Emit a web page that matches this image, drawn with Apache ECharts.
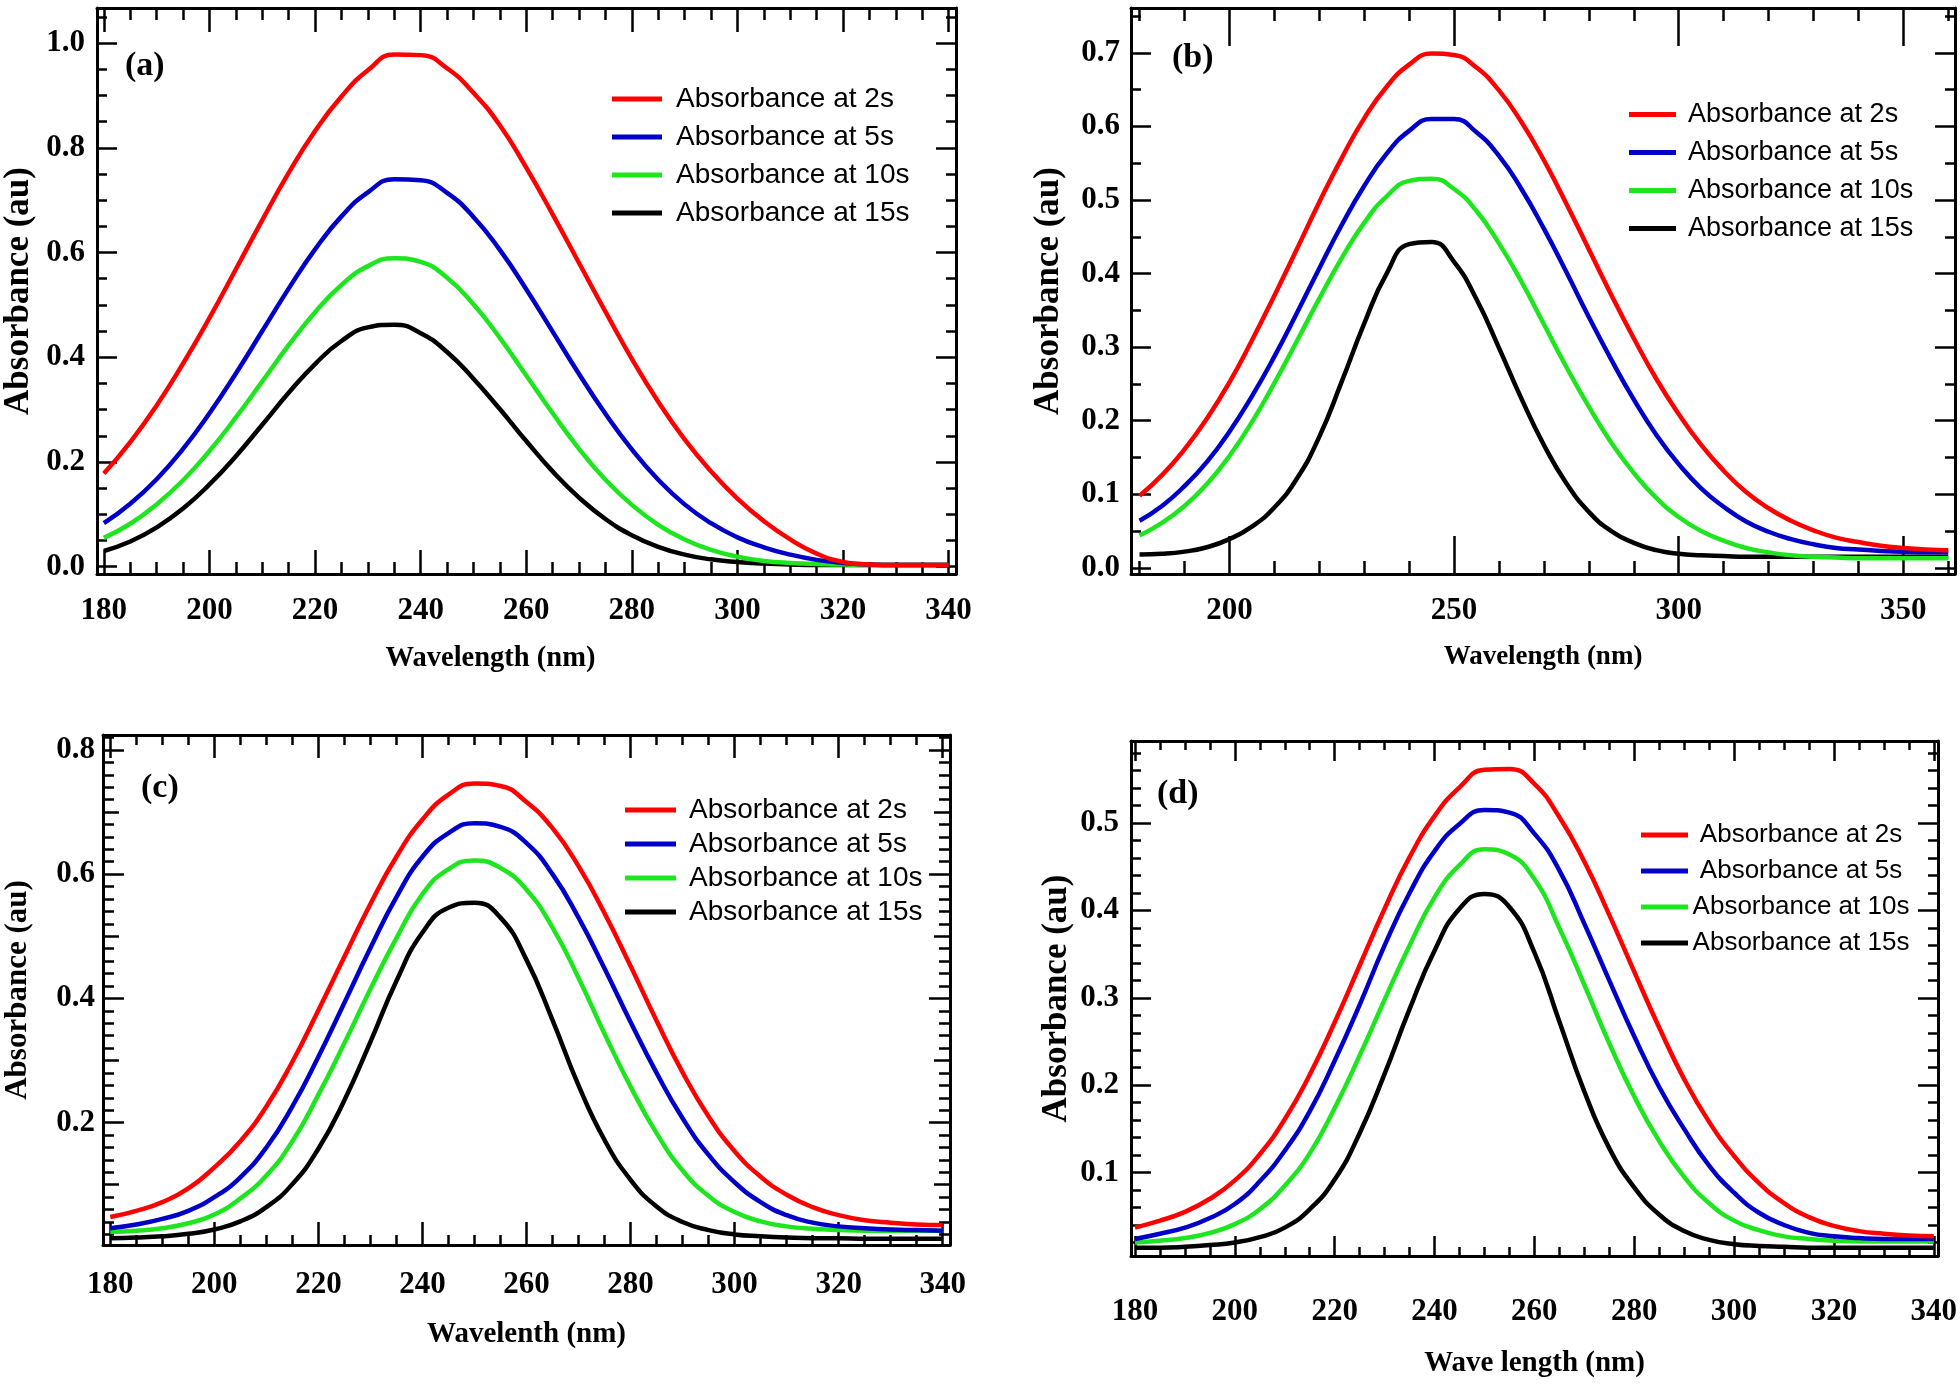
<!DOCTYPE html>
<html><head><meta charset="utf-8">
<script src="https://cdn.jsdelivr.net/npm/echarts@6/dist/echarts.min.js"></script>
<style>html,body{margin:0;padding:0;background:#fff}#c{width:1960px;height:1385px}</style>
</head><body><div id="c"></div>
<script>
// ---------------- DATA ----------------
const seriesNames = ['Absorbance at 2s', 'Absorbance at 5s', 'Absorbance at 10s', 'Absorbance at 15s'];

const wl340 = [180,185,190,195,200,205,210,215,220,225,230,235,240,245,250,255,260,265,270,275,280,285,290,295,300,305,310,315,320,325,330,335,340];
const wl360 = [180,185,190,195,200,205,210,215,220,225,230,235,240,245,250,255,260,265,270,275,280,285,290,295,300,305,310,315,320,325,330,335,340,345,350,355,360];

// panel (a)
const aRed   = [0.178,0.238,0.308,0.388,0.475,0.568,0.662,0.752,0.832,0.898,0.948,0.978,0.977,0.952,0.905,0.843,0.762,0.673,0.580,0.487,0.397,0.315,0.243,0.182,0.130,0.087,0.052,0.025,0.009,0.004,0.003,0.003,0.003];
const aBlue  = [0.083,0.120,0.167,0.225,0.293,0.369,0.450,0.531,0.606,0.669,0.715,0.740,0.738,0.714,0.668,0.605,0.530,0.449,0.368,0.292,0.224,0.166,0.119,0.083,0.056,0.037,0.023,0.013,0.007,0.004,0.003,0.003,0.003];
const aGreen = [0.055,0.082,0.119,0.165,0.221,0.285,0.354,0.423,0.486,0.538,0.574,0.589,0.582,0.552,0.501,0.437,0.365,0.293,0.225,0.166,0.118,0.080,0.052,0.032,0.019,0.011,0.007,0.005,0.004,0.003,0.003,0.003,0.003];
const aBlack = [0.030,0.048,0.075,0.111,0.157,0.211,0.271,0.332,0.387,0.431,0.457,0.462,0.446,0.410,0.359,0.301,0.240,0.182,0.132,0.091,0.060,0.038,0.023,0.014,0.009,0.006,0.004,0.003,0.003,0.003,0.003,0.003,0.003];

// panel (b)
const bRed   = [0.098,0.126,0.161,0.203,0.252,0.309,0.370,0.433,0.497,0.557,0.611,0.654,0.684,0.699,0.697,0.680,0.649,0.606,0.554,0.495,0.433,0.371,0.312,0.257,0.209,0.167,0.132,0.103,0.081,0.064,0.051,0.041,0.035,0.030,0.027,0.025,0.024];
const bBlue  = [0.064,0.084,0.111,0.144,0.185,0.233,0.287,0.346,0.407,0.466,0.519,0.563,0.594,0.610,0.610,0.592,0.560,0.515,0.461,0.402,0.341,0.283,0.229,0.181,0.141,0.108,0.083,0.063,0.049,0.039,0.032,0.027,0.025,0.023,0.022,0.021,0.021];
const bGreen = [0.044,0.061,0.084,0.114,0.152,0.198,0.251,0.308,0.366,0.421,0.469,0.505,0.526,0.529,0.515,0.485,0.441,0.389,0.331,0.273,0.219,0.170,0.129,0.095,0.069,0.050,0.037,0.027,0.021,0.017,0.015,0.014,0.013,0.013,0.013,0.013,0.013];
const bBlack = [0.018,0.019,0.022,0.028,0.039,0.056,0.082,0.121,0.178,0.253,0.332,0.400,0.440,0.443,0.416,0.365,0.299,0.230,0.167,0.115,0.076,0.050,0.034,0.024,0.019,0.017,0.016,0.015,0.015,0.015,0.015,0.015,0.015,0.015,0.015,0.015,0.015];

// panel (c)
const cRed   = [0.048,0.058,0.072,0.094,0.128,0.170,0.226,0.298,0.381,0.467,0.552,0.628,0.688,0.728,0.746,0.742,0.716,0.674,0.613,0.537,0.452,0.364,0.281,0.210,0.154,0.113,0.084,0.064,0.051,0.043,0.039,0.036,0.035];
const cBlue  = [0.030,0.036,0.045,0.058,0.080,0.112,0.160,0.226,0.306,0.393,0.481,0.563,0.628,0.666,0.682,0.676,0.650,0.600,0.530,0.448,0.362,0.280,0.207,0.148,0.104,0.072,0.051,0.039,0.033,0.030,0.028,0.027,0.026];
const cGreen = [0.024,0.026,0.030,0.038,0.052,0.078,0.115,0.170,0.245,0.328,0.415,0.497,0.568,0.608,0.622,0.610,0.575,0.514,0.433,0.343,0.258,0.183,0.123,0.082,0.056,0.041,0.033,0.029,0.027,0.026,0.026,0.026,0.026];
const cBlack = [0.014,0.015,0.017,0.021,0.028,0.041,0.064,0.101,0.158,0.236,0.330,0.428,0.506,0.546,0.554,0.530,0.462,0.365,0.260,0.172,0.108,0.065,0.040,0.027,0.020,0.017,0.015,0.014,0.014,0.013,0.013,0.013,0.013];

// panel (d)
const dRed   = [0.037,0.045,0.055,0.070,0.091,0.121,0.161,0.212,0.272,0.337,0.402,0.461,0.508,0.541,0.561,0.562,0.545,0.507,0.456,0.395,0.330,0.266,0.207,0.158,0.119,0.088,0.065,0.049,0.039,0.033,0.030,0.028,0.027];
const dBlue  = [0.024,0.030,0.037,0.048,0.064,0.090,0.125,0.170,0.228,0.292,0.360,0.420,0.468,0.499,0.515,0.512,0.488,0.446,0.385,0.320,0.256,0.198,0.150,0.108,0.077,0.054,0.040,0.031,0.027,0.025,0.024,0.024,0.024];
const dGreen = [0.020,0.022,0.025,0.031,0.041,0.058,0.085,0.122,0.174,0.234,0.298,0.360,0.415,0.452,0.470,0.464,0.436,0.380,0.315,0.248,0.187,0.136,0.095,0.065,0.045,0.034,0.027,0.024,0.022,0.021,0.021,0.021,0.021];
const dBlack = [0.014,0.014,0.015,0.017,0.020,0.026,0.037,0.058,0.092,0.145,0.213,0.287,0.354,0.402,0.419,0.404,0.352,0.273,0.193,0.128,0.083,0.052,0.033,0.023,0.018,0.016,0.015,0.014,0.014,0.014,0.014,0.014,0.014];

// tick labels
const aXLabels = [180,200,220,240,260,280,300,320,340];
const aYLabels = [0.0,0.2,0.4,0.6,0.8,1.0];
const bXLabels = [200,250,300,350];
const bYLabels = [0.0,0.1,0.2,0.3,0.4,0.5,0.6,0.7];
const cXLabels = [180,200,220,240,260,280,300,320,340];
const cYLabels = [0.2,0.4,0.6,0.8];
const dXLabels = [180,200,220,240,260,280,300,320,340];
const dYLabels = [0.1,0.2,0.3,0.4,0.5];

const panelTags = ['(a)', '(b)', '(c)', '(d)'];
const xTitles = ['Wavelength (nm)', 'Wavelength (nm)', 'Wavelenth (nm)', 'Wave length (nm)'];
const yTitle = 'Absorbance (au)';

// ---------------- STYLE / LAYOUT ----------------
const colors = ['#ff0000', '#0000c8', '#1ee61e', '#000000'];
const SERIF = '"Liberation Serif","Times New Roman",serif';
const LEGFONT = '"Liberation Sans",Arial,sans-serif';

function steps(a, b, s) { const out = []; for (let v = a; v <= b + 1e-9; v += s) out.push(Math.round(v * 1000) / 1000); return out; }

const panels = [
  { grid: {left: 97, top: 8, width: 859, height: 566}, xr: [178.7, 341.4], yr: [-0.014, 1.067],
    wl: wl340, ys: [aRed, aBlue, aGreen, aBlack], xl: aXLabels, yl: aYLabels,
    xMinor: steps(180, 340, 5), xMajLen: 24, xMinLen: 12,
    yMinor: steps(0, 1.05, 0.05), yMajLen: 20, yMinLen: 10, yMid: null,
    xLabMargin: 21, yLabMargin: 12, xNameGap: 70, yNameGap: 61, xNamePad: [0, 72, 0, 0],
    xNameFs: 28.5, yNameFs: 35,
    tag: {left: 125, top: 49},
    legend: {left: 612, top: 85, iw: 50, gap: 10, pad: 9, fs: 28} },
  { grid: {left: 1131, top: 8, width: 824, height: 566}, xr: [178.1, 361.5], yr: [-0.0084, 0.761],
    wl: wl360, ys: [bRed, bBlue, bGreen, bBlack], xl: bXLabels, yl: bYLabels,
    xMinor: steps(180, 360, 10), xMajLen: 38, xMinLen: 13,
    yMinor: steps(0.05, 0.75, 0.1), yMajLen: 20, yMinLen: 10, yMid: null,
    xLabMargin: 21, yLabMargin: 11, xNameGap: 70, yNameGap: 65, xNamePad: [0,0,0,0],
    xNameFs: 27, yNameFs: 35,
    tag: {left: 1172, top: 41},
    legend: {left: 1629, top: 101, iw: 47, gap: 11, pad: 7, fs: 27} },
  { grid: {left: 103, top: 735, width: 847, height: 510}, xr: [178.6, 341.4], yr: [0.003, 0.824],
    wl: wl340, ys: [cRed, cBlue, cGreen, cBlack], xl: cXLabels, yl: cYLabels,
    xMinor: steps(180, 340, 5), xMajLen: 23, xMinLen: 10,
    yMinor: steps(0.02, 0.82, 0.02), yMajLen: 21, yMinLen: 11, yMid: [0.1, 0.3, 0.5, 0.7],
    xLabMargin: 24, yLabMargin: 8, xNameGap: 75, yNameGap: 70, xNamePad: [0,0,0,0],
    xNameFs: 29, yNameFs: 31,
    tag: {left: 141, top: 771},
    legend: {left: 625, top: 796, iw: 51, gap: 6, pad: 8, fs: 28} },
  { grid: {left: 1131, top: 741, width: 812, height: 515}, xr: [179.2, 340.85], yr: [0.0045, 0.594],
    wl: wl340, ys: [dRed, dBlue, dGreen, dBlack], xl: dXLabels, yl: dYLabels,
    xMinor: steps(180, 340, 5), xMajLen: 20, xMinLen: 9,
    yMinor: steps(0.02, 0.58, 0.02), yMajLen: 20, yMinLen: 10, yMid: null,
    xLabMargin: 40, yLabMargin: 12, xNameGap: 93, yNameGap: 57, xNamePad: [0,0,0,0],
    xNameFs: 29, yNameFs: 35,
    tag: {left: 1157, top: 777},
    legend: {left: 1641, top: 822, iw: 47, gap: 10, pad: 0, fs: 26, center: 216} }
];

// ---------------- BUILD ----------------
const option = { animation: false, backgroundColor: '#fff', grid: [], xAxis: [], yAxis: [], series: [], legend: [], title: [] };

function baseAxis(g, r, pos, showLine) {
  return { type: 'value', gridIndex: g, position: pos, min: r[0], max: r[1], silent: true,
    splitLine: {show: false},
    axisLine: {show: showLine, onZero: false, lineStyle: {color: '#000', width: 3}},
    axisTick: {show: false}, axisLabel: {show: false} };
}
function tickAxis(g, r, pos, vals, len, showLine) {
  const a = baseAxis(g, r, pos, showLine);
  a.axisTick = {show: true, inside: true, length: len, customValues: vals, lineStyle: {color: '#000', width: 2.5}};
  return a;
}

panels.forEach((p, g) => {
  option.grid.push(Object.assign({containLabel: false}, p.grid));
  const xi = option.xAxis.length, yi = option.yAxis.length;
  const xMain = tickAxis(g, p.xr, 'bottom', p.xl, p.xMajLen, true);
  xMain.axisLabel = {show: true, customValues: p.xl, margin: p.xLabMargin, formatter: v => String(Math.round(v)),
    fontFamily: SERIF, fontWeight: 'bold', fontSize: 31, color: '#000'};
  xMain.name = xTitles[g]; xMain.nameLocation = 'middle'; xMain.nameGap = p.xNameGap;
  xMain.nameTextStyle = {fontFamily: SERIF, fontWeight: 'bold', fontSize: p.xNameFs, color: '#000', padding: p.xNamePad};
  option.xAxis.push(xMain);
  option.xAxis.push(tickAxis(g, p.xr, 'bottom', p.xMinor, p.xMinLen, false));
  option.xAxis.push(tickAxis(g, p.xr, 'top', p.xl, p.xMajLen, true));
  option.xAxis.push(tickAxis(g, p.xr, 'top', p.xMinor, p.xMinLen, false));

  const yMain = tickAxis(g, p.yr, 'left', p.yl, p.yMajLen, true);
  yMain.axisLabel = {show: true, customValues: p.yl, margin: p.yLabMargin, formatter: v => v.toFixed(1),
    fontFamily: SERIF, fontWeight: 'bold', fontSize: 31, color: '#000'};
  yMain.name = yTitle; yMain.nameLocation = 'middle'; yMain.nameGap = p.yNameGap;
  yMain.nameTextStyle = {fontFamily: SERIF, fontWeight: 'bold', fontSize: p.yNameFs, color: '#000'};
  option.yAxis.push(yMain);
  option.yAxis.push(tickAxis(g, p.yr, 'left', p.yMinor, p.yMinLen, false));
  option.yAxis.push(tickAxis(g, p.yr, 'right', p.yl, p.yMajLen, true));
  option.yAxis.push(tickAxis(g, p.yr, 'right', p.yMinor, p.yMinLen, false));
  if (p.yMid) {
    option.yAxis.push(tickAxis(g, p.yr, 'left', p.yMid, 16, false));
    option.yAxis.push(tickAxis(g, p.yr, 'right', p.yMid, 16, false));
  }

  p.ys.forEach((vals, k) => {
    option.series.push({
      type: 'line', name: seriesNames[k], xAxisIndex: xi, yAxisIndex: yi,
      data: p.wl.map((w, i) => [w, vals[i]]),
      showSymbol: false, smooth: 0.5, silent: true,
      lineStyle: {color: colors[k], width: 4.5}, itemStyle: {color: colors[k]}, z: 10 - k
    });
  });

  const L = p.legend;
  const leg = { data: seriesNames, orient: 'vertical', left: L.left, top: L.top, padding: 0,
    itemWidth: L.iw, itemHeight: 5, itemGap: L.gap, icon: 'rect', selectedMode: false,
    textStyle: {fontFamily: LEGFONT, fontSize: L.fs, lineHeight: L.fs, color: '#000', padding: [0, 0, 0, L.pad]} };
  if (L.center) {
    leg.formatter = n => '{c|' + n + '}';
    leg.textStyle.rich = {c: {width: L.center, align: 'center', fontFamily: LEGFONT, fontSize: L.fs, lineHeight: L.fs, color: '#000'}};
  }
  option.legend.push(leg);

  option.title.push({ text: panelTags[g], left: p.tag.left, top: p.tag.top, padding: 0,
    textStyle: {fontFamily: SERIF, fontWeight: 'bold', fontSize: 34, color: '#000'} });
});

const chart = echarts.init(document.getElementById('c'), null, {renderer: 'canvas'});
chart.setOption(option);
</script>
</body></html>
